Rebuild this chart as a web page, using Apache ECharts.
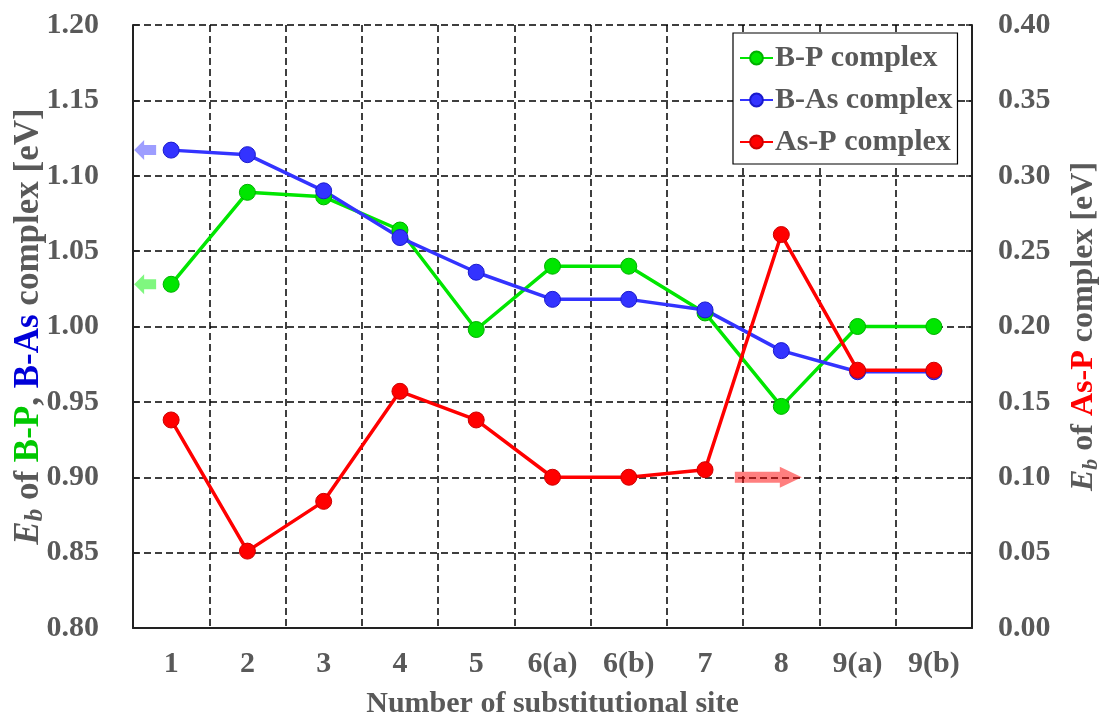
<!DOCTYPE html>
<html>
<head>
<meta charset="utf-8">
<script src="https://cdn.jsdelivr.net/npm/echarts@6/dist/echarts.min.js"></script>
<style>
  html, body { margin: 0; padding: 0; background: #fff; }
  #chart { width: 1103px; height: 717px; }
</style>
</head>
<body>
<div id="chart"></div>
<script>
// Substitutional sites along the x axis
const categories = ['1', '2', '3', '4', '5', '6(a)', '6(b)', '7', '8', '9(a)', '9(b)'];
// Binding energies Eb [eV]
const bpValues  = [1.028, 1.089, 1.086, 1.064, 0.998, 1.040, 1.040, 1.009, 0.947, 1.000, 1.000];
const basValues = [1.117, 1.114, 1.090, 1.059, 1.036, 1.018, 1.018, 1.011, 0.984, 0.970, 0.970];
const aspValues = [0.138, 0.051, 0.084, 0.157, 0.138, 0.100, 0.100, 0.105, 0.261, 0.171, 0.171];
// Axis ranges
const leftAxisRange  = [0.80, 1.20];
const rightAxisRange = [0.00, 0.40];
const axisStep = 0.05;
// Arrows pointing to the axis each series belongs to: [category index, value]
const bpArrowAt  = [0, bpValues[0]];
const basArrowAt = [0, basValues[0]];
const aspArrowAt = [8, 0.10];

const FONT = '"Liberation Serif", "Times New Roman", serif';
const GRAY = '#595959';
const FS = 30;

const leftArrowPath = 'path://M0,10 L10,0 L10,5 L22,5 L22,15 L10,15 L10,20 Z';
const rightArrowPath = 'path://M0,5 L45,5 L45,0 L67,10.5 L45,21 L45,16 L0,16 Z';

function arrowMark(coord, path, size, offset, color) {
  return {
    silent: true,
    symbol: path,
    symbolKeepAspect: false,
    symbolSize: size,
    symbolOffset: offset,
    label: { show: false },
    itemStyle: { color: color, borderWidth: 0 },
    data: [{ coord: coord }]
  };
}

// Rich-text styles for an axis title "Eb of ... complex [eV]" at a given size
function titleRich(size) {
  function word(color, italic) {
    return { fontFamily: FONT, fontSize: size, fontWeight: 'bold', fontStyle: italic ? 'italic' : 'normal',
             color: color, lineHeight: Math.round(size * 1.05), verticalAlign: 'top' };
  }
  const subSize = Math.round(size * 0.7);
  return {
    e:   word(GRAY, true),
    sub: { fontFamily: FONT, fontSize: subSize, fontWeight: 'bold', fontStyle: 'italic', color: GRAY,
           lineHeight: subSize, verticalAlign: 'bottom' },
    t:   word(GRAY, false),
    g:   word('#00c800', false),
    bl:  word('#0000d8', false),
    r:   word('#ff0000', false)
  };
}

const tickLabel = { fontFamily: FONT, fontSize: FS, fontWeight: 'bold', color: GRAY };
const dashed = { show: true, lineStyle: { color: '#000', width: 1.5, type: [7, 4] } };

function lineSeries(name, data, color, border, yAxisIndex, markPoint) {
  return {
    name: name,
    type: 'line',
    yAxisIndex: yAxisIndex,
    data: data,
    symbol: 'circle',
    symbolSize: 16,
    lineStyle: { color: color, width: 3.5 },
    itemStyle: { color: color, borderColor: border, borderWidth: 1 },
    emphasis: { disabled: true },
    markPoint: markPoint
  };
}

const chart = echarts.init(document.getElementById('chart'), null, { renderer: 'canvas' });
chart.setOption({
  animation: false,
  backgroundColor: '#fff',
  grid: { left: 133, right: 131, top: 25, bottom: 89, outerBoundsMode: 'none', containLabel: false },
  legend: {
    left: 733, top: 33,
    orient: 'vertical',
    backgroundColor: '#fff',
    borderColor: '#000', borderWidth: 1.2,
    padding: [10, 5, 7, 6],
    itemGap: 12,
    itemWidth: 33, itemHeight: 16,
    textStyle: { fontFamily: FONT, fontSize: FS, fontWeight: 'bold', color: GRAY, padding: [0, 0, 0, -3] },
    data: ['B-P complex', 'B-As complex', 'As-P complex']
  },
  xAxis: {
    type: 'category',
    data: categories,
    boundaryGap: true,
    axisLine: { lineStyle: { color: '#222', width: 2 } },
    axisTick: { inside: true, length: 6, lineStyle: { color: '#222', width: 1.5 } },
    axisLabel: Object.assign({ margin: 21 }, tickLabel),
    splitLine: dashed,
    name: 'Number of substitutional site',
    nameLocation: 'middle',
    nameGap: 61,
    nameMoveOverlap: false,
    nameTextStyle: { fontFamily: FONT, fontSize: FS, fontWeight: 'bold', color: GRAY }
  },
  yAxis: [
    {
      type: 'value',
      min: leftAxisRange[0], max: leftAxisRange[1], interval: axisStep,
      axisLine: { show: true, lineStyle: { color: '#222', width: 2 } },
      axisTick: { show: true, inside: true, length: 6, lineStyle: { color: '#222', width: 1.5 } },
      axisLabel: Object.assign({ margin: 34, formatter: v => v.toFixed(2) }, tickLabel),
      splitLine: dashed,
      name: '{e|E}{sub|b}{t| of }{g|B-P}{t|, }{bl|B-As}{t| complex [eV]}',
      nameLocation: 'middle',
      nameRotate: 90,
      nameGap: 85,
      nameMoveOverlap: false,
      nameTextStyle: { rich: titleRich(35) }
    },
    {
      type: 'value',
      position: 'right',
      min: rightAxisRange[0], max: rightAxisRange[1], interval: axisStep,
      axisLine: { show: true, lineStyle: { color: '#222', width: 2 } },
      axisTick: { show: true, inside: true, length: 6, lineStyle: { color: '#222', width: 1.5 } },
      axisLabel: Object.assign({ margin: 26, formatter: v => v.toFixed(2) }, tickLabel),
      splitLine: { show: false },
      name: '{e|E}{sub|b}{t| of }{r|As-P}{t| complex [eV]}',
      nameLocation: 'middle',
      nameRotate: 90,
      nameGap: 96,
      nameTextStyle: { rich: titleRich(32) }
    }
  ],
  series: [
    lineSeries('B-P complex', bpValues, '#00e600', '#00b000', 0,
      arrowMark(bpArrowAt, leftArrowPath, [22, 20], [-26, 0], 'rgba(0, 240, 0, 0.5)')),
    lineSeries('B-As complex', basValues, '#3333ff', '#1a1acc', 0,
      arrowMark(basArrowAt, leftArrowPath, [22, 20], [-26, 0], 'rgba(60, 60, 255, 0.5)')),
    lineSeries('As-P complex', aspValues, '#ff0000', '#cc0000', 1,
      arrowMark(aspArrowAt, rightArrowPath, [67, 21], [-13, 0], 'rgba(255, 0, 0, 0.5)'))
  ]
});
</script>
</body>
</html>
